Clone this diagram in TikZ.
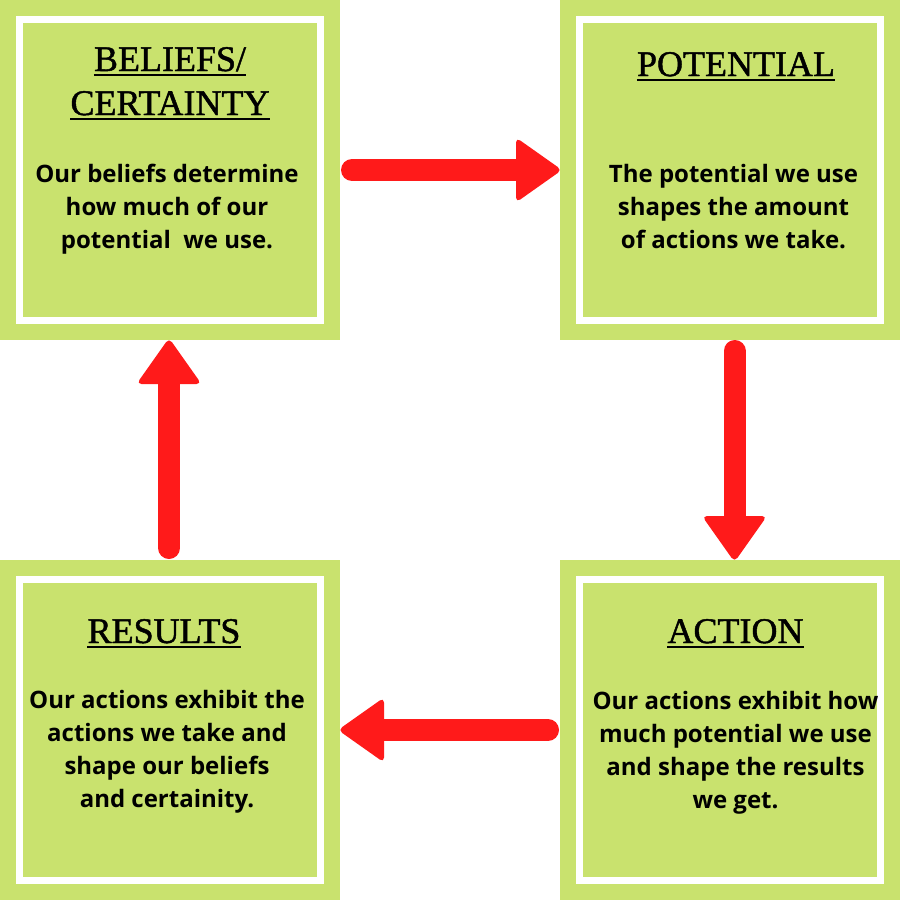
\documentclass[tikz,border=0pt]{standalone}
\usepackage{fontspec}
\newfontfamily\bodyfont{Open Sans}
\newfontfamily\titlefont{Liberation Serif}[FakeBold=1.3]
\usetikzlibrary{calc}
\definecolor{boxgreen}{RGB}{201,226,110}
\definecolor{arrowred}{RGB}{255,26,26}
\tikzset{
  panel/.style={fill=boxgreen, draw=none, minimum size=340pt, inner sep=0pt, outer sep=0pt},
  frame/.style={draw=white, line width=7.5pt},
  title/.style={font=\titlefont\fontsize{36}{40}\selectfont, inner sep=0pt, anchor=base},
  body/.style={font=\bodyfont\bfseries\fontsize{24}{33}\selectfont, align=center, inner sep=0pt, anchor=north},
  uline/.style={draw=black, line width=2pt},
  shaft/.style={draw=arrowred, line width=22pt, line cap=round},
  head/.style={fill=arrowred, rounded corners=5pt},
}
\newcommand\redarrow[2]{%
  \coordinate (hb) at ($(#2)!46pt!(#1)$);
  \draw[shaft] (#1) -- (hb);
  \fill[head] (hb) -- ($(hb)!32.5pt!90:(#2)$) -- (#2) -- ($(hb)!32.5pt!-90:(#2)$) -- cycle;
}
\newcommand\whiteframe[1]{%
  \draw[frame] ([shift={(19.5pt,-19.5pt)}]#1.north west) rectangle ([shift={(-19.5pt,19.5pt)}]#1.south east);
}
\newcommand\uline[1]{%
  \draw[uline] ([yshift=-3.5pt]#1.base west) -- ([yshift=-3.5pt]#1.base east);
}
\begin{document}
\begin{tikzpicture}[x=1pt,y=-1pt]
\useasboundingbox (0,0) rectangle (900,900);
% panels
\node[panel] (b1) at (170,170) {};
\node[panel] (b2) at (730,170) {};
\node[panel] (b3) at (730,730) {};
\node[panel] (b4) at (170,730) {};
\whiteframe{b1}
\whiteframe{b2}
\whiteframe{b3}
\whiteframe{b4}
% titles
\node[title] (t1a) at (170,71) {BELIEFS/};
\node[title] (t1b) at (170,115) {CERTAINTY};
\node[title] (t2) at (736,76) {POTENTIAL};
\node[title] (t3) at (735.5,643) {ACTION};
\node[title] (t4) at (164,643) {RESULTS};
\uline{t1a}
\uline{t1b}
\uline{t2}
\uline{t3}
\uline{t4}
% body texts
\node[body] (x1) at (167,160) {\rule{0pt}{22pt}Our beliefs determine\\how much of our\\potential\ \ we use.};
\node[body] (x2) at (733.5,160) {\rule{0pt}{22pt}The potential we use\\shapes the amount\\of actions we take.};
\node[body] (x3) at (735.5,687) {\rule{0pt}{22pt}Our actions exhibit how\\much potential we use\\and shape the results\\we get.};
\node[body] (x4) at (167,686) {\rule{0pt}{22pt}Our actions exhibit the\\actions we take and\\shape our beliefs\\and certainity.};
% arrows
\redarrow{[xshift=12pt]b1.east}{[xshift=2pt]b2.west}
\redarrow{[xshift=4.5pt,yshift=-11pt]b2.south}{[xshift=4.5pt,yshift=-2pt]b3.north}
\redarrow{[xshift=-12pt]b3.west}{[xshift=-2pt]b4.east}
\redarrow{[xshift=-1pt,yshift=12pt]b4.north}{[xshift=-1pt,yshift=2pt]b1.south}
\end{tikzpicture}
\end{document}
